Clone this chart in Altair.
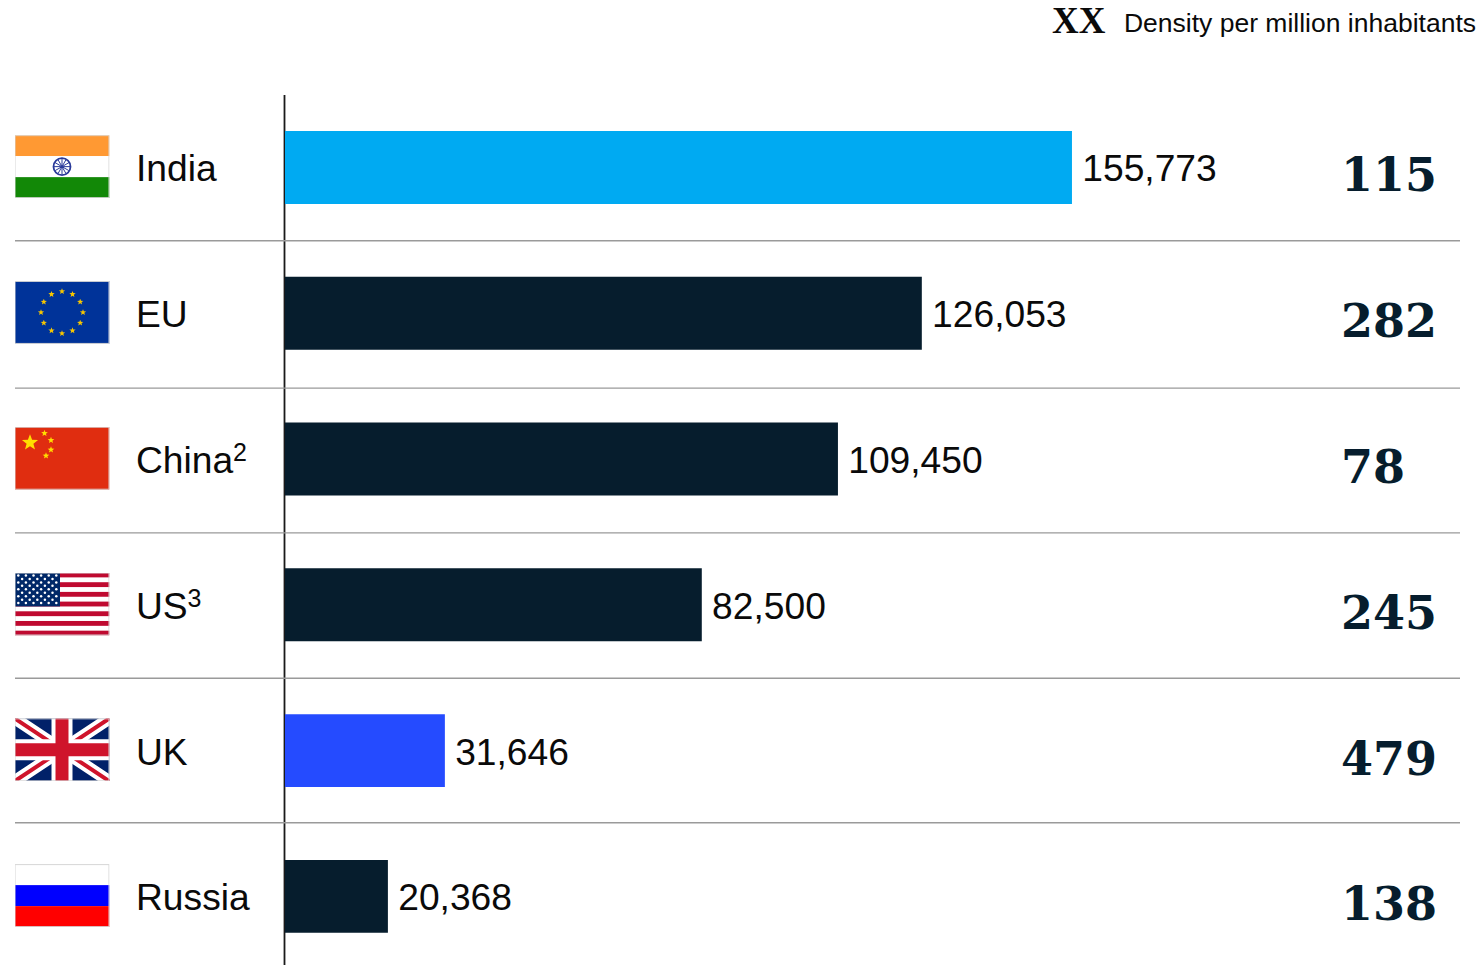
import base64
import math

import altair as alt
import pandas as pd

countries = ["India", "EU", "China", "US", "UK", "Russia"]
values = [155773, 126053, 109450, 82500, 31646, 20368]
density = [115, 282, 78, 245, 479, 138]
highlights = ["india", "other", "other", "other", "uk", "other"]
flag_keys = ["in", "eu", "cn", "us", "gb", "ru"]
footnoted = ["China", "US"]
footnote_marks = ["2", "3"]

NAVY = "#061D2D"
SANS = "Liberation Sans"
SERIF = "DejaVu Serif"
LABEL_SIZE = 37.2


def star(cx, cy, r, fill):
    pts = []
    for i in range(10):
        rad = r if i % 2 == 0 else r * 0.42
        a = -math.pi / 2 + i * math.pi / 5
        pts.append(f"{cx + rad * math.cos(a):.2f},{cy + rad * math.sin(a):.2f}")
    return f'<polygon points="{" ".join(pts)}" fill="{fill}"/>'


def flag_uri(body):
    svg = (
        '<svg xmlns="http://www.w3.org/2000/svg" width="95" height="63" viewBox="0 0 95 63">'
        + body
        + '<rect x="0.5" y="0.5" width="94" height="62" fill="none" stroke="#d6d6d6" stroke-width="1"/></svg>'
    )
    return "data:image/svg+xml;base64," + base64.b64encode(svg.encode()).decode()


def flag_india():
    spokes = "".join(
        f'<line x1="47.5" y1="31.5" x2="{47.5 + 8 * math.cos(i * math.pi / 6):.2f}" '
        f'y2="{31.5 + 8 * math.sin(i * math.pi / 6):.2f}" stroke="#2a3a9a" stroke-width="1"/>'
        for i in range(12)
    )
    return (
        '<rect width="95" height="21" fill="#FF9933"/>'
        '<rect y="21" width="95" height="21" fill="#ffffff"/>'
        '<rect y="42" width="95" height="21" fill="#128807"/>'
        '<circle cx="47.5" cy="31.5" r="8.5" fill="#ffffff" stroke="#2a3a9a" stroke-width="1.8"/>' + spokes
    )


def flag_eu():
    stars = "".join(
        star(47.5 + 21 * math.sin(i * math.pi / 6), 31.5 - 21 * math.cos(i * math.pi / 6), 3.3, "#F7C600")
        for i in range(12)
    )
    return '<rect width="95" height="63" fill="#003399"/>' + stars


def flag_china():
    small = [(30, 6.5), (36.5, 13.5), (36.5, 23), (31.5, 29)]
    return (
        '<rect width="95" height="63" fill="#E02D10"/>'
        + star(15.5, 16, 8.5, "#FFDE00")
        + "".join(star(x, y, 3.5, "#FFDE00") for x, y in small)
    )


def flag_us():
    stripe = 63 / 13
    body = '<rect width="95" height="63" fill="#ffffff"/>'
    for i in range(0, 13, 2):
        body += f'<rect y="{i * stripe:.2f}" width="95" height="{stripe:.2f}" fill="#BF0A30"/>'
    body += f'<rect width="45.5" height="{7 * stripe:.2f}" fill="#002868"/>'
    for r in range(9):
        cols = 6 if r % 2 == 0 else 5
        for c in range(cols):
            x = 3.8 + c * 7.6 + (0 if r % 2 == 0 else 3.8)
            y = 3 + r * 3.45
            body += f'<circle cx="{x:.2f}" cy="{y:.2f}" r="1.25" fill="#ffffff"/>'
    return body


def flag_uk():
    return (
        '<rect width="95" height="63" fill="#012169"/>'
        '<path d="M0,0L95,63M95,0L0,63" stroke="#ffffff" stroke-width="12"/>'
        '<path d="M0,0L95,63M95,0L0,63" stroke="#CF142B" stroke-width="4"/>'
        '<path d="M47.5,0V63M0,31.5H95" stroke="#ffffff" stroke-width="21"/>'
        '<path d="M47.5,0V63M0,31.5H95" stroke="#CF142B" stroke-width="13"/>'
    )


def flag_russia():
    return (
        '<rect width="95" height="21" fill="#ffffff"/>'
        '<rect y="21" width="95" height="21" fill="#0000FF"/>'
        '<rect y="42" width="95" height="21" fill="#FF0000"/>'
    )


flag_art = {
    "in": flag_india(),
    "eu": flag_eu(),
    "cn": flag_china(),
    "us": flag_us(),
    "gb": flag_uk(),
    "ru": flag_russia(),
}

df = pd.DataFrame(
    {
        "country": countries,
        "value": values,
        "density": density,
        "group": highlights,
        "flag": [flag_uri(flag_art[k]) for k in flag_keys],
    }
)

x_scale = alt.Scale(domain=[0, 236342], nice=False, zero=False)
y_scale = alt.Scale(
    domain=countries, paddingInner=0.5, paddingOuter=0.235, align=0.531, round=False
)
y_enc = alt.Y(
    "country:N",
    sort=countries,
    scale=y_scale,
    title=None,
    axis=alt.Axis(labels=False, ticks=False, grid=False, domain=True, domainColor="#1a1a1a", domainWidth=1.8, offset=1),
)
x_enc = alt.X("value:Q", scale=x_scale, axis=None)
base = alt.Chart(df)

# Row separators, each set at the midpoint between neighbouring bars
separator_offsets = [73.3, 74.9, 73.8, 73.4, 72.1]
separators = [
    alt.Chart(df[df.country == name])
    .mark_rule(color="#9a9a9a", strokeWidth=1.4, yOffset=off)
    .encode(y=y_enc, x=alt.value(-270), x2=alt.value(1175))
    for name, off in zip(countries, separator_offsets)
]

bars = base.mark_bar(cornerRadius=0).encode(
    x=x_enc,
    y=y_enc,
    color=alt.Color(
        "group:N",
        scale=alt.Scale(domain=["india", "other", "uk"], range=["#00AAF2", NAVY, "#254BFF"]),
        legend=None,
    ),
)

value_labels = base.mark_text(
    align="left", baseline="alphabetic", dx=10.3, dy=14, font=SANS, fontSize=LABEL_SIZE, color="#0a0a0a"
).encode(x=x_enc, y=y_enc, text=alt.Text("value:Q", format=","))

country_labels = base.mark_text(
    align="left", baseline="alphabetic", dx=-149, dy=14, font=SANS, fontSize=LABEL_SIZE, color="#0a0a0a"
).encode(x=alt.datum(0), y=y_enc, text="country:N")

# Footnote references sit just past the end of their country names
footnote_df = pd.DataFrame({"country": footnoted, "mark": footnote_marks})
footnote_gaps = [-52, -97.5]
footnotes = [
    alt.Chart(footnote_df[footnote_df.country == name])
    .mark_text(align="left", baseline="alphabetic", dx=gap, dy=2, font=SANS, fontSize=25, color="#0a0a0a")
    .encode(x=alt.datum(0), y=y_enc, text="mark:N")
    for name, gap in zip(footnoted, footnote_gaps)
]

density_labels = base.mark_text(
    align="left", baseline="alphabetic", dy=24, font=SERIF, fontWeight="bold", fontSize=46, color=NAVY
).encode(x=alt.value(1056), y=y_enc, text="density:Q")

flags = base.mark_image(width=95, height=63, aspect=False, xOffset=-223, yOffset=-0.8).encode(
    x=alt.datum(0), y=y_enc, url="flag:N"
)

legend_key = alt.Chart(pd.DataFrame({"t": ["XX"]})).mark_text(
    align="left", baseline="alphabetic", font="Liberation Serif", fontWeight="bold", fontSize=37, color="#0a0a0a"
).encode(x=alt.value(767), y=alt.value(-62), text="t:N")

legend_text = alt.Chart(pd.DataFrame({"t": ["Density per million inhabitants"]})).mark_text(
    align="right", baseline="alphabetic", font=SANS, fontSize=26.5, color="#0a0a0a"
).encode(x=alt.value(1191), y=alt.value(-62.5), text="t:N")

chart = (
    alt.layer(
        *separators, bars, value_labels, country_labels, *footnotes, density_labels, flags, legend_key, legend_text
    )
    .properties(
        width=1194,
        height=870.4,
        padding={"left": 285, "top": 94.6, "right": 0, "bottom": 0},
        autosize=alt.AutoSizeParams(type="none"),
        background="#ffffff",
    )
    .configure_view(stroke=None)
)

chart.save("out.html", embed_options={"renderer": "svg", "actions": False})
